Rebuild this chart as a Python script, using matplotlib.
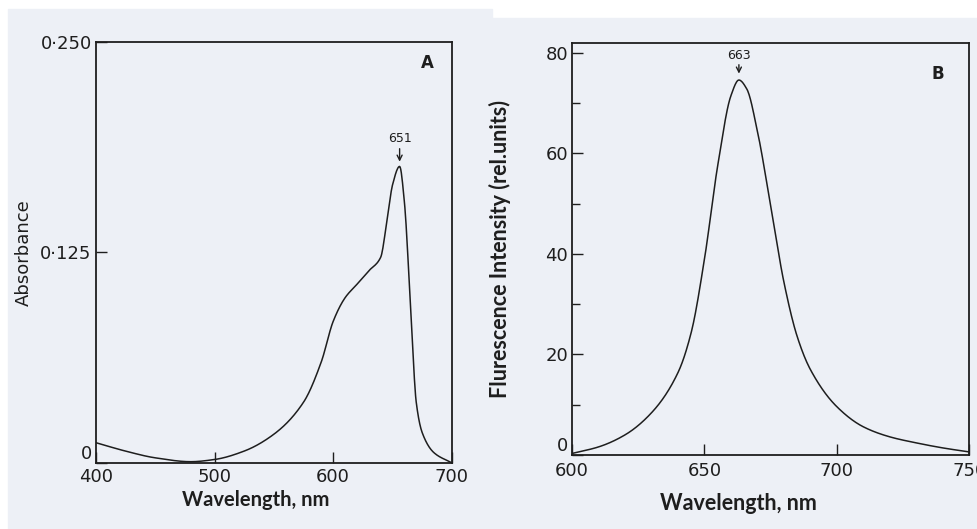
import numpy as np
import matplotlib.pyplot as plt
from matplotlib.patches import Rectangle
from matplotlib.ticker import FixedLocator

# panel A: absorbance spectrum
abs_wl = [400, 425, 450, 480, 500, 525, 550, 575, 590, 600, 610, 620, 630, 640,
          645, 650, 656, 660, 665, 670, 675, 685, 700]
abs_val = [0.012, 0.007, 0.003, 0.0007, 0.002, 0.007, 0.017, 0.036, 0.060, 0.084,
           0.098, 0.106, 0.114, 0.122, 0.142, 0.165, 0.176, 0.155, 0.096, 0.036,
           0.018, 0.006, 0.0]
abs_ticks = [0, 0.125, 0.250]
abs_ticklabels = ['0', '0·125', '0·250']

# panel B: fluorescence emission spectrum
fl_wl = [600, 610, 620, 630, 640, 645, 650, 655, 660, 663, 666, 670, 675, 680,
         685, 690, 700, 710, 720, 730, 740, 750]
fl_val = [0.3, 1.6, 4.0, 8.4, 16.4, 24.4, 39.0, 57.6, 71.5, 74.6, 72.8, 64.4,
          49.6, 34.4, 23.6, 17.0, 9.6, 5.6, 3.6, 2.4, 1.4, 0.6]

bg = '#edf0f6'
ink = '#1e1e1e'


def pchip(x, y, n=600):
    # monotone cubic (Fritsch-Carlson) through the read-off points
    x = np.asarray(x, float)
    y = np.asarray(y, float)
    h = np.diff(x)
    d = np.diff(y) / h
    m = np.zeros_like(y)
    for i in range(1, len(x) - 1):
        if d[i - 1] * d[i] > 0:
            w1 = 2 * h[i] + h[i - 1]
            w2 = h[i] + 2 * h[i - 1]
            m[i] = (w1 + w2) / (w1 / d[i - 1] + w2 / d[i])
    m[0], m[-1] = d[0], d[-1]
    xs = np.linspace(x[0], x[-1], n)
    idx = np.clip(np.searchsorted(x, xs) - 1, 0, len(h) - 1)
    t = (xs - x[idx]) / h[idx]
    h00 = 2 * t**3 - 3 * t**2 + 1
    h10 = t**3 - 2 * t**2 + t
    h01 = -2 * t**3 + 3 * t**2
    h11 = t**3 - t**2
    ys = h00 * y[idx] + h10 * h[idx] * m[idx] + h01 * y[idx + 1] + h11 * h[idx] * m[idx + 1]
    return xs, ys


def style(ax):
    ax.set_facecolor(bg)
    for s in ax.spines.values():
        s.set_color(ink)
        s.set_linewidth(1.3)
    ax.tick_params(direction='in', length=8, width=1, colors=ink,
                   labelsize=13, pad=3)
    ax.tick_params(which='minor', direction='in', length=6, width=1, colors=ink)


fig = plt.figure(figsize=(9.78, 5.29), dpi=100, facecolor='white')
W, H = 978, 529
fig.patches.append(Rectangle((8 / W, 0), (492 - 8) / W, (H - 9) / H,
                             transform=fig.transFigure, color=bg, zorder=-1))
fig.patches.append(Rectangle((492 / W, 0), (W - 492) / W, (H - 18) / H,
                             transform=fig.transFigure, color=bg, zorder=-1))

ax1 = fig.add_axes([0.098, 0.125, 0.364, 0.796])
style(ax1)
x, y = pchip(abs_wl, abs_val)
ax1.plot(x, y, color=ink, lw=1.1)
ax1.set_xlim(400, 700)
ax1.set_ylim(0, 0.250)
ax1.set_xticks([400, 500, 600, 700])
ax1.set_yticks(abs_ticks)
ax1.set_yticklabels(abs_ticklabels)
ax1.get_yticklabels()[0].set_va('bottom')
ax1.tick_params(axis='x', pad=4)
ax1.set_ylabel('Absorbance', fontsize=13, color=ink)
ax1.yaxis.set_label_coords(-0.177, 0.5)
ax1.set_xlabel('Wavelength, nm', fontsize=14.5, fontweight='bold', color=ink,
               family='Lato')
ax1.xaxis.set_label_coords(0.45, -0.064)
ax1.annotate('651', xy=(656, 0.178), xytext=(656, 0.189), ha='center', va='bottom',
             fontsize=9, color=ink,
             arrowprops=dict(arrowstyle='->', color=ink, lw=1, shrinkA=1, shrinkB=1))
ax1.text(0.93, 0.95, 'A', transform=ax1.transAxes, fontsize=12,
         fontweight='bold', color=ink, ha='center', va='center')

ax2 = fig.add_axes([0.585, 0.140, 0.406, 0.779])
style(ax2)
x, y = pchip(fl_wl, fl_val)
ax2.plot(x, y, color=ink, lw=1.1)
ax2.set_xlim(600, 750)
ax2.set_ylim(0, 82)
ax2.set_xticks([600, 650, 700, 750])
ax2.set_yticks([0, 20, 40, 60, 80])
ax2.get_yticklabels()[0].set_va('bottom')
ax2.yaxis.set_minor_locator(FixedLocator([10, 30, 50, 70]))
ax2.tick_params(axis='x', pad=5)
ax2.set_ylabel('Flurescence Intensity (rel.units)', fontsize=15.5,
               fontweight='bold', color=ink, family='Lato')
ax2.yaxis.set_label_coords(-0.154, 0.5)
ax2.set_xlabel('Wavelength, nm', fontsize=15.5, fontweight='bold', color=ink,
               family='Lato')
ax2.xaxis.set_label_coords(0.42, -0.092)
ax2.annotate('663', xy=(663, 75.6), xytext=(663, 78.2), ha='center', va='bottom',
             fontsize=9, color=ink,
             arrowprops=dict(arrowstyle='->', color=ink, lw=1, shrinkA=0, shrinkB=1))
ax2.text(0.92, 0.925, 'B', transform=ax2.transAxes, fontsize=12,
         fontweight='bold', color=ink, ha='center', va='center')

fig.savefig('out.png', dpi=100, facecolor='white')
